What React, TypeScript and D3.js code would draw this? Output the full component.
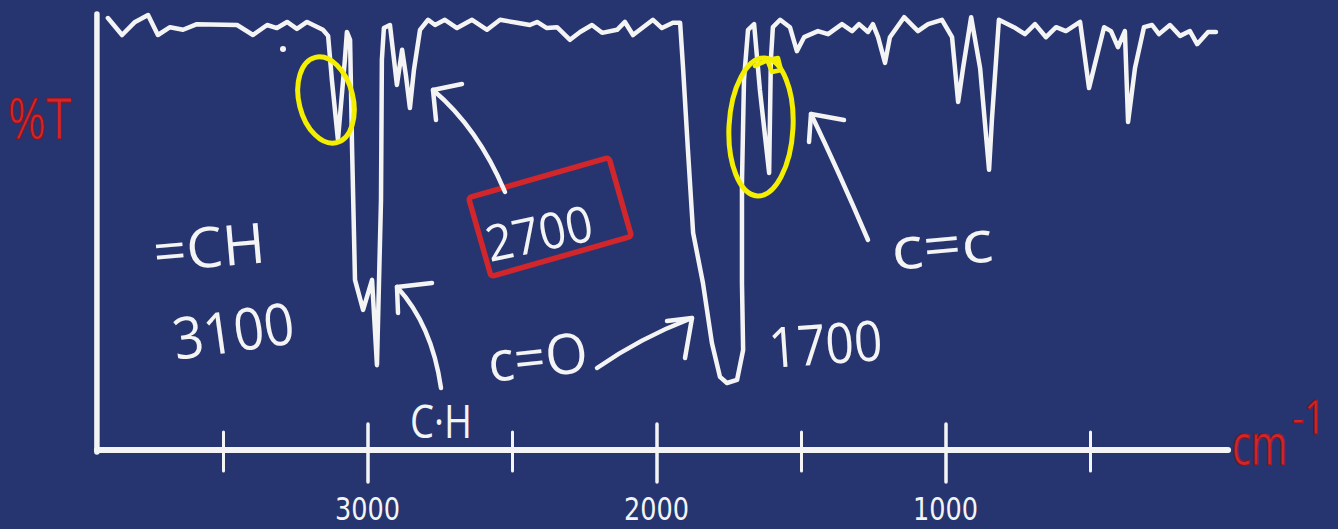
import React from "react";
import * as d3 from "d3";

// Hand-drawn IR spectrum (wavenumber cm^-1, %T)
const wavenumbers = [
  3900, 3851, 3806, 3761, 3727, 3685, 3640, 3592, 3453, 3398, 3349, 3315, 3280, 3246, 3211, 3156, 3138, 3125, 3104,
  3080, 3073, 3062, 3055, 3045, 3017, 2986, 2969, 2955, 2952, 2945, 2924, 2910, 2900, 2882, 2869, 2855, 2841, 2820,
  2792, 2768, 2734, 2692, 2640, 2588, 2543, 2484, 2440, 2415, 2381, 2346, 2301, 2266, 2225, 2190, 2138, 2111, 2083,
  2014, 1983, 1945, 1920, 1910, 1893, 1875, 1841, 1810, 1782, 1758, 1723, 1702, 1706, 1706, 1699, 1685, 1664, 1644,
  1612, 1606, 1599, 1574, 1540, 1516, 1491, 1443, 1408, 1360, 1325, 1301, 1270, 1253, 1235, 1211, 1194, 1145, 1097,
  1062, 1014, 979, 958, 941, 913, 882, 851, 841, 817, 765, 727, 692, 654, 619, 585, 536, 505, 488, 453, 429, 405, 381,
  370, 346, 315, 287, 263, 225, 190, 156, 131, 93, 66,
];
const transmittance = [
  99.3, 95.4, 98.4, 100, 95.4, 97.2, 96.6, 97.9, 97.7, 95.4, 97.7, 97.0, 98.4, 96.8, 98.4, 96.6, 95.2, 85.1, 71.3,
  89.7, 96.1, 94.3, 69.0, 39.1, 32.2, 39.1, 19.5, 57.5, 89.7, 97.0, 97.7, 89.7, 83.9, 92.0, 86.2, 78.6, 87.4, 96.6,
  98.9, 97.7, 98.9, 97.0, 98.9, 96.6, 98.9, 98.2, 97.7, 98.4, 97.0, 97.2, 94.3, 96.1, 97.7, 95.9, 96.6, 98.4, 95.4,
  98.9, 97.0, 98.2, 98.2, 88.0, 69.0, 49.9, 38.4, 24.6, 16.8, 15.4, 16.1, 23.0, 38.4, 61.4, 85.1, 96.6, 97.9, 82.8,
  63.7, 89.7, 97.2, 98.9, 97.2, 91.7, 94.9, 96.3, 95.6, 97.9, 96.3, 97.9, 96.1, 97.9, 94.9, 89.0, 94.9, 99.5, 96.3,
  97.9, 98.9, 94.9, 80.0, 87.8, 99.5, 87.8, 64.4, 76.1, 98.9, 97.2, 95.6, 97.9, 94.9, 97.2, 96.3, 98.4, 83.2, 87.8,
  97.2, 96.3, 92.6, 96.3, 75.4, 87.8, 97.2, 97.7, 95.6, 97.7, 95.2, 96.3, 93.3, 96.1, 96.1,
];
const majorTicks = [3000, 2000, 1000];
const majorTickLabels = ["3000", "2000", "1000"];
const minorTicks = [3500, 2500, 1500, 500];

const W = 1338;
const H = 529;
const BG = "#26356f";
const WHITE = "#f4f4f4";
const RED = "#d1262b";
const YELLOW = "#f4ee00";

export default function App() {
  const x = d3.scaleLinear().domain([4000, 0]).range([79, 1235]);
  const y = d3.scaleLinear().domain([0, 100]).range([450, 15]);
  const pts: [number, number][] = wavenumbers.map((w, i) => [w, transmittance[i]]);
  const line = d3
    .line<[number, number]>()
    .x((d) => x(d[0]))
    .y((d) => y(d[1]))
    .curve(d3.curveLinear);

  const axisY = y(0);
  const axisLeft = x(3938);
  const axisRight = x(24);
  const hand = "'Open Sans', 'Noto Sans', sans-serif";
  const narrow = "'Liberation Sans Narrow', 'DejaVu Sans Condensed', 'DejaVu Sans', sans-serif";

  return (
    <div style={{ position: "absolute", left: 0, top: 0, width: W, height: H, background: BG }}>
      <svg width={W} height={H} style={{ display: "block" }}>
        <rect x={0} y={0} width={W} height={H} fill={BG} />

        {/* axes */}
        <line x1={axisLeft} y1={14} x2={axisLeft} y2={axisY + 2} stroke={WHITE} strokeWidth={5.5} strokeLinecap="round" />
        <line x1={axisLeft} y1={axisY} x2={axisRight} y2={axisY} stroke={WHITE} strokeWidth={6} strokeLinecap="round" />
        {majorTicks.map((t) => (
          <line key={"M" + t} x1={x(t)} y1={axisY - 26} x2={x(t)} y2={axisY + 32} stroke={WHITE} strokeWidth={3.5} strokeLinecap="round" />
        ))}
        {minorTicks.map((t) => (
          <line key={"m" + t} x1={x(t)} y1={axisY - 18} x2={x(t)} y2={axisY + 21} stroke={WHITE} strokeWidth={3} strokeLinecap="round" />
        ))}
        {majorTicks.map((t, i) => (
          <text
            key={"L" + t}
            x={x(t) - 33}
            y={520}
            fill={WHITE}
            fontFamily={narrow}
            fontSize={32}
            textLength={65}
            lengthAdjust="spacingAndGlyphs"
          >
            {majorTickLabels[i]}
          </text>
        ))}

        {/* spectrum */}
        <path d={line(pts) || ""} fill="none" stroke={WHITE} strokeWidth={4.5} strokeLinejoin="round" strokeLinecap="round" />
        <circle cx={283} cy={49} r={3} fill={WHITE} />

        {/* axis titles */}
        <text x={8} y={139} fill={RED} stroke="#8d1215" strokeWidth={1} fontFamily={hand} fontSize={56} textLength={64} lengthAdjust="spacingAndGlyphs">
          %T
        </text>
        <g transform="translate(1232,465) scale(0.68,1)">
          <text x={0} y={0} fill={RED} stroke="#8d1215" strokeWidth={1} fontFamily={hand} fontSize={58}>
            cm
          </text>
        </g>
        <g transform="translate(1292,434) scale(0.78,1)">
          <text x={0} y={0} fill={RED} stroke="#8d1215" strokeWidth={1} fontFamily={hand} fontSize={48}>
            -1
          </text>
        </g>

        {/* yellow circles */}
        <ellipse cx={326} cy={100} rx={27} ry={44} fill="none" stroke={YELLOW} strokeWidth={5} transform="rotate(-14 326 100)" />
        <ellipse cx={761} cy={127} rx={32} ry={69} fill="none" stroke={YELLOW} strokeWidth={5} transform="rotate(3 761 127)" />
        <path d="M755,66 L768,60 L778,58 L781,70 L772,72 L768,62" fill="none" stroke={YELLOW} strokeWidth={4.5} strokeLinejoin="round" strokeLinecap="round" />

        {/* red box */}
        <g transform="rotate(-16 550 217)">
          <rect x={477} y={176} width={146} height={82} fill="none" stroke={RED} strokeWidth={5.5} rx={3} />
        </g>

        {/* arrows */}
        <g fill="none" stroke={WHITE} strokeWidth={4.5} strokeLinecap="round" strokeLinejoin="round">
          <path d="M505,192 Q478,128 433,90" />
          <path d="M462,84 L433,90 L436,120" />
          <path d="M441,388 Q432,325 397,287" />
          <path d="M432,283 L397,287 L398,313" />
          <path d="M597,368 Q640,338 692,318" />
          <path d="M667,321 L692,318 L685,358" />
          <path d="M868,240 Q838,170 811,114" />
          <path d="M844,120 L811,114 L809,142" />
        </g>

        {/* hand-written labels */}
        <g fill={WHITE} fontFamily={hand}>
          <text x={155} y={272} fontSize={56} textLength={112} lengthAdjust="spacingAndGlyphs" transform="rotate(-5 155 272)">
            =CH
          </text>
          <text x={176} y={360} fontSize={58} textLength={122} lengthAdjust="spacingAndGlyphs" transform="rotate(-8 176 360)">
            3100
          </text>
          <text x={410} y={438} fontSize={46} textLength={62} lengthAdjust="spacingAndGlyphs">
            C·H
          </text>
          <text x={490} y={382} fontSize={56} textLength={100} lengthAdjust="spacingAndGlyphs" transform="rotate(-6 490 382)">
            c=O
          </text>
          <text x={770} y={368} fontSize={56} textLength={114} lengthAdjust="spacingAndGlyphs" transform="rotate(-4 770 368)">
            1700
          </text>
          <text x={893} y={270} fontSize={58} textLength={102} lengthAdjust="spacingAndGlyphs" transform="rotate(-5 893 270)">
            c=c
          </text>
          <text x={490} y={262} fontSize={50} textLength={108} lengthAdjust="spacingAndGlyphs" transform="rotate(-12 490 262)">
            2700
          </text>
        </g>
      </svg>
    </div>
  );
}
